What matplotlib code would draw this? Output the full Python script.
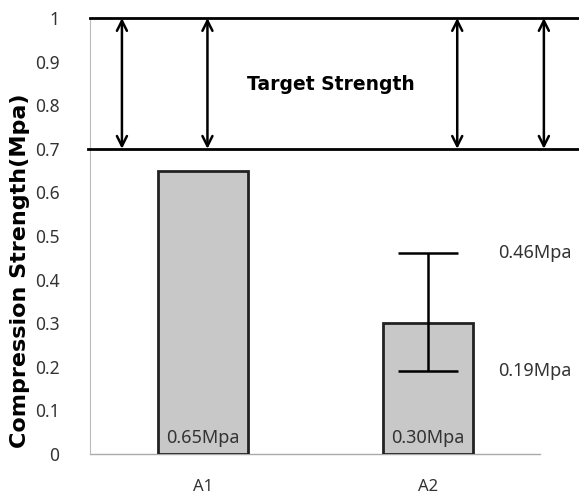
import matplotlib.pyplot as plt
import numpy as np

plt.rcParams['font.family'] = ['Noto Sans', 'DejaVu Sans']

# data
categories = ["A1", "A2"]
strength = [0.65, 0.30]
bar_labels = ["0.65Mpa", "0.30Mpa"]
err_low = 0.19
err_high = 0.46
target_low = 0.7
target_high = 1.0
yticks = [0, 0.1, 0.2, 0.3, 0.4, 0.5, 0.6, 0.7, 0.8, 0.9, 1]
ytick_labels = ["0", "0.1", "0.2", "0.3", "0.4", "0.5", "0.6", "0.7", "0.8", "0.9", "1"]
arrow_x = [-0.36, 0.02, 1.13, 1.515]

fig = plt.figure(figsize=(5.79, 4.95), dpi=100)
ax = fig.add_axes([0.1554, 0.0828, 0.843, 0.8808])

x = np.arange(len(categories))
ax.bar(x, strength, width=0.4, color="#c8c8c8", edgecolor="#222222", linewidth=2, zorder=2)

# error bar on A2
ax.errorbar([x[1]], [(err_low + err_high) / 2], yerr=[(err_high - err_low) / 2],
            fmt="none", ecolor="black", elinewidth=1.8, capsize=21.5, capthick=1.8, zorder=3)
ax.text(1.31, err_high, "0.46Mpa", fontsize=13, color="#333333", va="center", ha="left")
ax.text(1.31, err_low, "0.19Mpa", fontsize=13, color="#333333", va="center", ha="left")

for xi, lab in zip(x, bar_labels):
    ax.text(xi, 0.015, lab, ha="center", va="bottom", fontsize=13, color="#333333", zorder=4)

# target band
ax.plot([-0.5, 1.667], [target_high, target_high], color="black", lw=2, clip_on=False, zorder=3)
ax.plot([-0.51, 1.667], [target_low, target_low], color="black", lw=2, clip_on=False, zorder=3)
for ax_x in arrow_x:
    ax.annotate("", xy=(ax_x, target_high), xytext=(ax_x, target_low),
                arrowprops=dict(arrowstyle="<->", color="black", lw=1.8,
                                mutation_scale=18, shrinkA=0, shrinkB=0))
ax.text(0.57, 0.848, "Target Strength", fontsize=13.5, fontweight="bold",
        family="DejaVu Sans", ha="center", va="center")

# axis at zero, only under categories
ax.plot([-0.5, 1.5], [0, 0], color="#aaaaaa", lw=1, clip_on=False, zorder=1)

ax.set_xlim(-0.502, 1.667)
ax.set_ylim(0, 1)
ax.set_xticks(x)
ax.set_xticklabels(categories, fontsize=12, color="#333333")
ax.set_yticks(yticks)
ax.set_yticklabels(ytick_labels, fontsize=12.5, color="#333333")
ax.tick_params(length=0)
ax.tick_params(axis="y", pad=22)
ax.tick_params(axis="x", pad=18)
for s in ["top", "right", "bottom"]:
    ax.spines[s].set_visible(False)
ax.spines["left"].set_color("#bbbbbb")
ax.set_ylabel("Compression Strength(Mpa)", fontsize=16, fontweight="bold",
              family="DejaVu Sans")
ax.yaxis.set_label_coords(-0.122, 0.42)

fig.savefig("out.png", dpi=100)
